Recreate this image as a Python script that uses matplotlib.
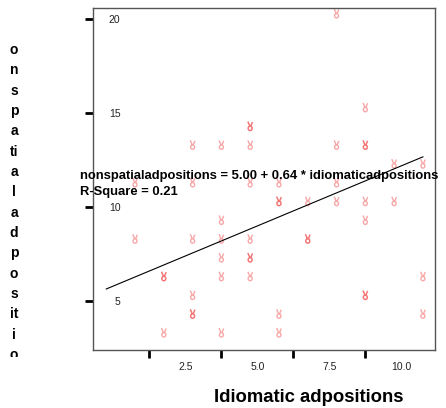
import matplotlib
matplotlib.use("Agg")
import matplotlib.pyplot as plt
import matplotlib.transforms as mtransforms
from matplotlib.path import Path
import numpy as np

# observed cases (repeated pairs are cases that fall on the same spot)
idiomatic = [9, 10, 6, 6, 4, 5, 6, 9, 10, 10, 11, 12,
             2, 4, 6, 7, 9, 7, 7, 8, 9, 10, 11, 5, 10,
             2, 4, 5, 6, 8, 8, 5, 6, 6, 3, 3, 5, 6, 12,
             4, 10, 10, 4, 4, 7, 12, 3, 5, 7]
nonspatial = [20, 15, 14, 14, 13, 13, 13, 13, 13, 13, 12, 12,
              11, 11, 11, 11, 11, 10, 10, 10, 10, 10, 10, 9, 9,
              8, 8, 8, 8, 8, 8, 7, 7, 7, 6, 6, 6, 6, 6,
              5, 5, 5, 4, 4, 4, 4, 3, 3, 3]

intercept = 5.00
slope = 0.64
r_square = 0.21
fit_x = [1, 12]

xticks = [2.5, 5.0, 7.5, 10.0]
yticks = [5, 10, 15, 20]

plt.rcParams['font.family'] = ['Liberation Sans', 'DejaVu Sans']

fig = plt.figure(figsize=(4.46, 4.08), dpi=100)
ax = fig.add_axes([93 / 446, 1 - 350 / 408, 342 / 446, 342 / 408])
ax.set_xlim(0.54, 12.42)
ax.set_ylim(2.39, 20.61)

for s in ax.spines.values():
    s.set_color('#555555')
    s.set_linewidth(1.0)

# the "hand" symbol: two prongs over a small loop
t = np.linspace(0, 2 * np.pi, 16)
loop = np.column_stack([0.28 * np.cos(t), -0.32 + 0.3 * np.sin(t)])
verts = [(-0.32, 0.62), (-0.05, 0.0), (0.32, 0.56), (0.08, 0.0)] + [tuple(v) for v in loop]
codes = [Path.MOVETO, Path.LINETO, Path.MOVETO, Path.LINETO] + \
        [Path.MOVETO] + [Path.LINETO] * (len(loop) - 1)
hand = Path(verts, codes)

# glyphs sit slightly above the true point
mark_tr = ax.transData + mtransforms.ScaledTranslation(0, 0.06, fig.dpi_scale_trans)
ax.scatter(idiomatic, nonspatial, marker=hand, s=42, facecolors='none',
           edgecolors='#f03030', linewidths=1.0, alpha=0.42, transform=mark_tr)

fx = np.array(fit_x, dtype=float)
ax.plot(fx, intercept + slope * fx, color='black', lw=0.8)

ax.set_xticks(xticks)
ax.set_xticklabels([f'{t:.1f}' for t in xticks])
ax.set_yticks(yticks)
ax.set_yticklabels([str(t) for t in yticks])
ax.tick_params(axis='both', direction='out', length=6, width=2, color='black',
               labelsize=7.5, labelcolor='#222222', pad=3)

for lab in ax.get_xticklabels():
    lab.set_transform(lab.get_transform() +
                      mtransforms.ScaledTranslation(0.36, 0, fig.dpi_scale_trans))
for lab in ax.get_yticklabels():
    lab.set_transform(lab.get_transform() +
                      mtransforms.ScaledTranslation(0.40, 0, fig.dpi_scale_trans))

ax.set_xlabel('Idiomatic adpositions', fontsize=13.3, fontweight='bold')
ax.xaxis.set_label_coords((309 - 93) / 342, -(397 - 350) / 342)
ax.xaxis.label.set_va('center')

# y label comes out as a stacked column of letters
ylab = fig.text(14 / 446, 1 - 43 / 408,
                'o\nn\ns\np\na\nti\na\nl\na\nd\np\no\ns\nit\ni\no',
                ha='center', va='top', fontsize=10, fontweight='bold',
                linespacing=1.575)
ylab.set_clip_box(mtransforms.TransformedBbox(
    mtransforms.Bbox([[0, 1 - 357 / 408], [0.2, 1]]), fig.transFigure))
ylab.set_clip_on(True)

fig.text(80 / 446, 1 - 184 / 408,
         f'nonspatialadpositions = {intercept:.2f} + {slope:.2f} * idiomaticadpositions\n'
         f'R-Square = {r_square:.2f}',
         ha='left', va='center', fontsize=9.4, fontweight='bold', linespacing=1.5)

fig.savefig('out.png', dpi=100)
